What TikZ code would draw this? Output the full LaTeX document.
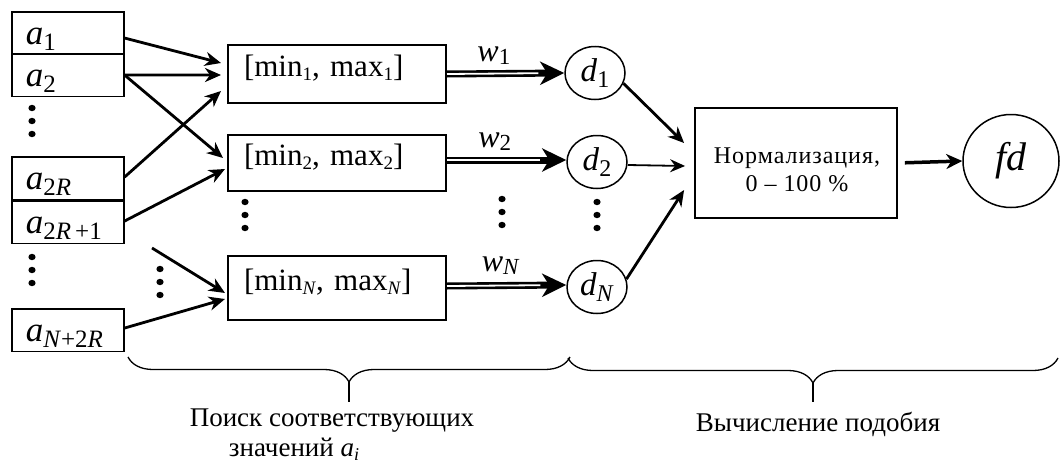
\documentclass[tikz,border=0pt]{standalone}
\usepackage{fontspec}
\setmainfont{Liberation Serif}
\newfontfamily\normfont{Liberation Serif}[LetterSpace=4, Ligatures=TeX]
\usetikzlibrary{arrows.meta,shapes.geometric,decorations.pathreplacing,calc}
\newcommand\sbs[3]{\raisebox{-#2}{\fontsize{#1}{#1}\selectfont #3}}
\begin{document}
\begin{tikzpicture}[x=1pt,y=-1pt,
  abox/.style={draw, line width=1.6pt, minimum width=112pt, minimum height=42.5pt,
    anchor=north west, inner xsep=14pt, inner ysep=0pt, text width=84pt, align=left,
    text height=26pt, text depth=4pt, font=\fontsize{35}{35}\selectfont},
  minbox/.style={draw, line width=2pt, minimum width=218pt, anchor=north west,
    inner xsep=16pt, inner ysep=0pt, text width=186pt, align=left,
    text height=20pt, text depth=16pt, font=\fontsize{31}{31}\selectfont},
  dnode/.style={draw, ellipse, line width=1.5pt, minimum width=60pt, minimum height=53pt,
    inner sep=0pt, font=\fontsize{33}{33}\selectfont},
  arr/.style={line width=2.8pt, -{Stealth[length=16pt,width=14pt,inset=5pt]}},
  thinarr/.style={line width=1.8pt, -{Stealth[length=15pt,width=13pt,inset=5pt]}},
  dblout/.style={line width=7pt, -{Stealth[length=24pt,width=23pt,inset=7pt]}},
  dblin/.style={line width=1.8pt, white, shorten >=26pt},
  wlab/.style={font=\fontsize{32}{32}\selectfont, inner sep=1pt},
  brc/.style={decorate, decoration={brace, mirror, amplitude=25pt}, line width=1.3pt},
  txt/.style={font=\fontsize{27}{27}\selectfont, inner sep=0pt},
  vd/.pic={\fill (0,-13) ellipse (3.6 and 3.2); \fill (0,0) ellipse (3.6 and 3.2);
    \fill (0,13) ellipse (3.6 and 3.2);}
]
\useasboundingbox (0,0) rectangle (1060,463);

% input boxes
\node[abox] (a1) at (11,11) {\textit{a}\sbs{25}{6pt}{1}};
\node[abox] (a2) at (11,53) {\textit{a}\sbs{25}{6pt}{2}};
\node[abox] (a2R) at (11,156) {\textit{a}\sbs{25}{6pt}{2\textit{R}}};
\node[abox] (a2R1) at (11,200) {\textit{a}\sbs{25}{6pt}{2\textit{R}\,+1}};
\node[abox] (aN2R) at (11,308) {\textit{a}\sbs{25}{6pt}{\textit{N}+2\textit{R}}};

% min/max boxes
\node[minbox, minimum height=58pt] (m1) at (227,44) {[min\sbs{19}{4pt}{1}, max\sbs{19}{4pt}{1}]};
\node[minbox, minimum height=56pt] (m2) at (227,134) {[min\sbs{19}{4pt}{2}, max\sbs{19}{4pt}{2}]};
\node[minbox, minimum height=64pt] (mN) at (227,255) {[min\sbs{19}{4pt}{\textit{N}}, max\sbs{19}{4pt}{\textit{N}}]};

% d circles
\node[dnode] (d1) at (595,73) {\textit{d}\sbs{24}{6pt}{1}};
\node[dnode] (d2) at (597,162) {\textit{d}\sbs{24}{6pt}{2}};
\node[dnode] (dN) at (597,287) {\textit{d}\sbs{24}{6pt}{\textit{N}}};

% normalization
\node[draw, line width=1.8pt, minimum width=202pt, minimum height=110pt] (norm) at (796,163) {};
\node[font=\normfont\fontsize{24}{28}\selectfont, align=center, inner sep=0pt]
  (normt) at (797,170) {Нормализация,\\0 -- 100 \%};

% fd
\node[draw, ellipse, line width=1.5pt, minimum width=96pt, minimum height=93pt, inner sep=0pt,
  font=\fontsize{40}{40}\selectfont\itshape] (fd) at (1011,161) {fd};

% dots
\pic at (32,121) {vd};
\pic at (32,270) {vd};
\pic at (160,282) {vd};
\pic at (245,215) {vd};
\pic at (502,212) {vd};
\pic at (597,215) {vd};

% input arrows
\coordinate (s6) at (152,248);
\draw[arr] ($(a1.east)+(0,5)$) -- ($(m1.west)+(-6,-11)$);
\draw[arr] (a2.east) -- ($(m1.west)+(-6,1)$);
\draw[arr] (a2.east) -- ($(m2.west)+(-4,-5)$);
\draw[arr] ($(a2R.east)+(0,-1)$) -- ($(m1.west)+(-6,17)$);
\draw[arr] ($(a2R1.east)+(0,-1)$) -- ($(m2.west)+(-2,6)$);
\draw[arr] (s6) -- ($(mN.west)+(-2,5)$);
\draw[arr] ($(aN2R.east)+(0,-2)$) -- ($(mN.west)+(-2,11)$);

% weighted double arrows
\draw[dblout] (m1.east) -- node[wlab, pos=0.4, above=5pt] {\textit{w}\sbs{23}{3pt}{1}} (d1.west);
\draw[dblin] (m1.east) -- (d1.west);
\draw[dblout] ($(m2.east)+(0,-3)$) -- node[wlab, pos=0.4, above=5pt] {\textit{w}\sbs{23}{3pt}{2}} ($(d2.west)+(0,-2)$);
\draw[dblin] ($(m2.east)+(0,-3)$) -- ($(d2.west)+(0,-2)$);
\draw[dblout] ($(mN.east)+(0,-2)$) -- node[wlab, pos=0.45, above=7pt] {\textit{w}\sbs{23}{3pt}{\textit{N}}} ($(dN.west)+(0,-2)$);
\draw[dblin] ($(mN.east)+(0,-2)$) -- ($(dN.west)+(0,-2)$);

% to normalization
\draw[arr] (d1.-20) -- ($(norm.west)+(-10,-20)$);
\draw[thinarr] ($(d2.east)+(0,3)$) -- ($(norm.west)+(-9,3)$);
\draw[arr] (dN.15) -- ($(norm.west)+(-10,27)$);
\draw[line width=3.5pt, -{Stealth[length=16pt,width=15pt,inset=5pt]}, shorten <=7pt] (norm.east) -- (fd.west);

% braces
\coordinate (b1l) at (128,357); \coordinate (b1r) at (570,357);
\coordinate (b1t) at (349,382); \coordinate (b1e) at (349,402);
\coordinate (b2l) at (568,358); \coordinate (b2r) at (1058,358);
\coordinate (b2t) at (813,383); \coordinate (b2e) at (813,402);
\draw[brc] (b1l) -- (b1r);
\draw[line width=1.3pt] (b1t) -- (b1e);
\draw[brc] (b2l) -- (b2r);
\draw[line width=1.3pt] (b2t) -- (b2e);

\node[txt] (poisk) at (332,421) {Поиск соответствующих};
\node[txt] (znach) at (294,449) {значений \textit{a}\sbs{18}{4pt}{\textit{i}}};
\node[txt] (vych) at (818,424) {Вычисление подобия};
\end{tikzpicture}
\end{document}
